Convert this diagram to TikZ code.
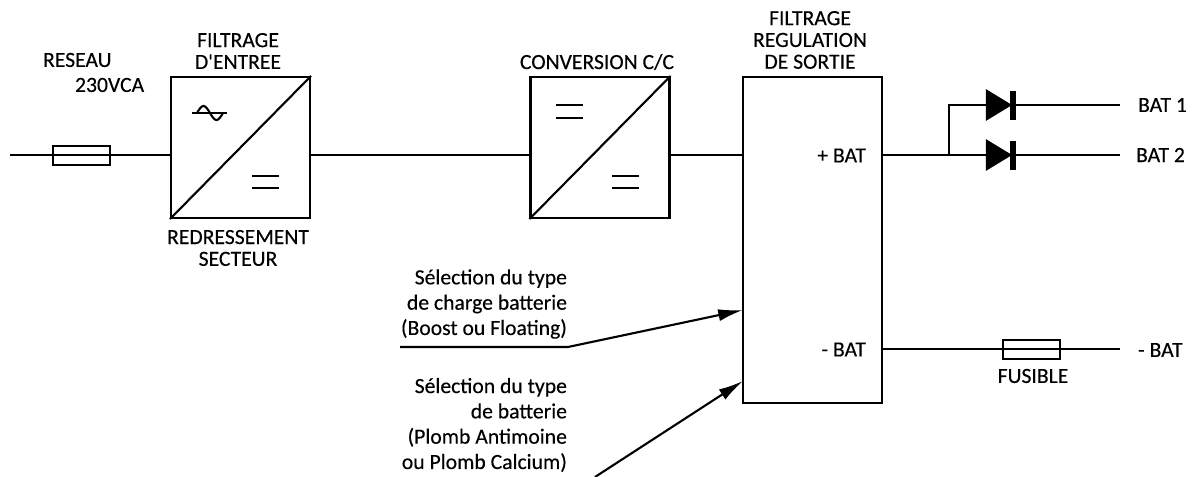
\documentclass[tikz,border=0pt]{standalone}
\usepackage{fontspec}
\newfontfamily\plan{Carlito}[FakeBold=0.25]
\usetikzlibrary{arrows.meta}
\usetikzlibrary{positioning}
\tikzset{txt/.style = {inner sep = 0, font = \plan\fontsize{15.4}{18}\selectfont}}
\tikzset{titre/.style = {inner sep = 0, align = center, font = \plan\fontsize{15.4}{15.5}\selectfont}}
\tikzset{fuse/.style = {draw, rectangle, inner sep = 0, minimum width = 1.425cm, minimum height = 0.475cm}}
\tikzset{conv/.style = {draw, rectangle, inner sep = 0, minimum width = 3.475cm, minimum height = 3.525cm}}
\tikzset{wire/.style = {line width = 1.5pt}}
\tikzset{fleche/.style = {wire, -{Latex[length = 0.62cm, width = 0.3cm]}}}

\begin{document}
\begin{tikzpicture}[x = 0.025cm, y = -0.025cm, wire]
            \useasboundingbox (0,0) rectangle (1196,477);
            \node [conv] (redresseur) at (240.5,147.5) {};
            \node [conv] (convertisseur) at (600,147.5) {};
            \node [draw, rectangle, inner sep = 0, minimum width = 3.475cm, minimum height = 8.15cm] (regulation) at (812.5,240) {};
            \node [fuse] (fusreseau) at (81.5,155.5) {};
            \node [fuse] (fusbat) at (1031.5,349.5) {};
            \coordinate (secteur) at (10,155);
            \coordinate (plus) at (882,155);
            \coordinate (moins) at (882,349);
            \coordinate (jonction) at (949,155);
            \coordinate (anode1) at (987,105);
            \coordinate (cathode1) at (1013,105);
            \coordinate (cathode2) at (1013,155);
            \coordinate (sortie1) at (1120,105);
            \coordinate (sortie2) at (1120,155);
            \coordinate (sortie3) at (1120,349);
            \coordinate (charge) at (400,347);
            \coordinate (coude) at (568,347);
            \coordinate (entreecharge) at (743,310);
            \coordinate (batterie) at (595,477);
            \coordinate (entreebatterie) at (743,381);

            \draw [] (secteur)--(secteur-|redresseur.west);
            \draw [] (secteur-|redresseur.east)--(secteur-|convertisseur.west);
            \draw [] (secteur-|convertisseur.east)--(secteur-|regulation.west);
            \draw [] (redresseur.south west)--(redresseur.north east);
            \draw [] (convertisseur.south west)--(convertisseur.north east);

            \draw [] (192,113)--(227,113);
            \draw [] (197,113) sin (203.5,106) cos (210,113) sin (216.5,120) cos (223,113);
            \foreach \x/\y in {252/176, 252/188, 556/105, 556/118, 612/176, 612/188}
                \draw [] (\x,\y)--++(27,0);

            \draw [] (plus)--(cathode2)--(sortie2);
            \draw [] (jonction)--(jonction|-anode1)--(cathode1)--(sortie1);
            \filldraw [] (987,91)--(1010,105)--(987,119)--cycle;
            \filldraw [] (987,141)--(1010,155)--(987,169)--cycle;
            \fill [] (1010,91) rectangle (1016,120);
            \fill [] (1010,141) rectangle (1016,170);
            \draw [] (moins)--(sortie3);

            \draw [fleche] (charge)--(coude)--(entreecharge);
            \draw [fleche] (batterie)--(entreebatterie);

            \node [txt, anchor = west] (reseau) at (42,60) {RESEAU};
            \node [txt, anchor = west] (tension) at (74,85) {230VCA};
            \node [titre] (filtrageentree) at (238,51) {FILTRAGE\\D'ENTREE};
            \node [titre] (redressement) at (238,248) {REDRESSEMENT\\SECTEUR};
            \node [txt] (conversion) at (597,62) {CONVERSION C/C};
            \node [titre] (filtragesortie) at (810,40) {FILTRAGE\\REGULATION\\DE SORTIE};
            \node [txt, anchor = east] (plusbat) at (867,155.5) {+ BAT};
            \node [txt, anchor = east] (moinsbat) at (867,349.5) {- BAT};
            \node [txt, anchor = west] (bat1) at (1137,105) {BAT 1};
            \node [txt, anchor = west] (bat2) at (1135,155) {BAT 2};
            \node [txt, anchor = west] (batmoins) at (1137,350) {- BAT};
            \node [txt] (fusible) at (1033,376) {FUSIBLE};
            \node [txt, align = right, anchor = east] (selcharge) at (568,304) {S\'election du type\\de charge batterie\\(Boost ou Floating)};
            \node [txt, align = right, anchor = east] (selbatterie) at (568,425) {S\'election du type\\de batterie\\(Plomb Antimoine\\ou Plomb Calcium)};
        \end{tikzpicture}
\end{document}
